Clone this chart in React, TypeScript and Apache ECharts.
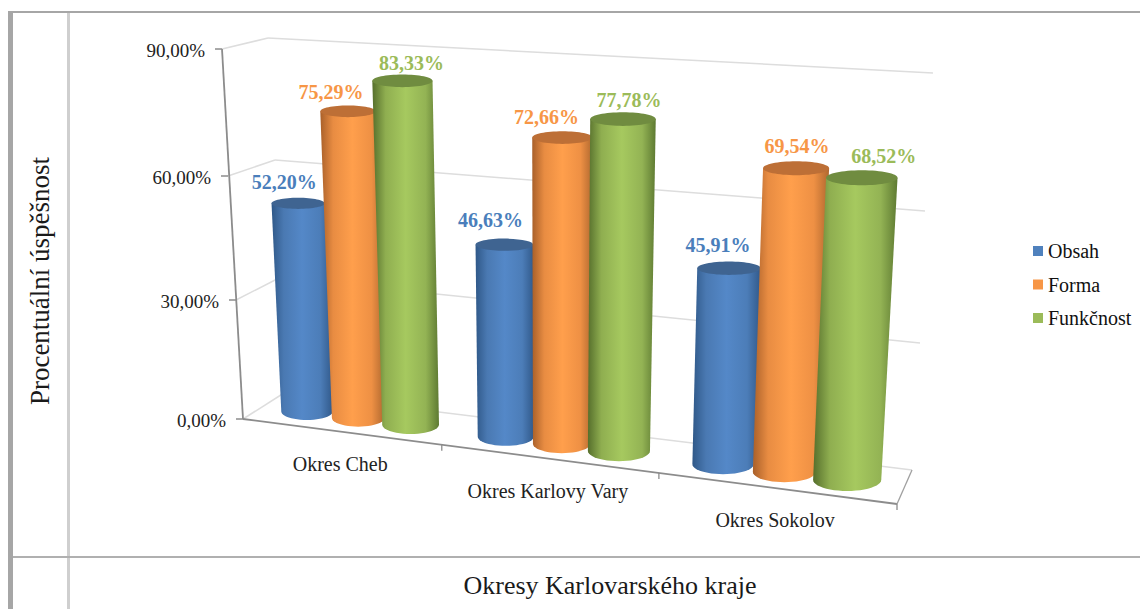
import React, { useEffect, useRef } from "react";
import * as echarts from "echarts";

const categories = ["Okres Cheb", "Okres Karlovy Vary", "Okres Sokolov"];
const seriesNames = ["Obsah", "Forma", "Funkčnost"];
const obsah = [52.2, 46.63, 45.91];
const forma = [75.29, 72.66, 69.54];
const funkcnost = [83.33, 77.78, 68.52];
const yTicks = [0, 30, 60, 90];
const yTickLabels = ["0,00%", "30,00%", "60,00%", "90,00%"];

const FONT = '"Liberation Serif", serif';
const palette = [
  { main: "#4F81BD", top: "#3F6491", stops: ["#2F5888", "#4A79B2", "#5488C8", "#4C7DB8", "#31598A"], text: "#4A7EBB" },
  { main: "#F79646", top: "#BD6F36", stops: ["#A9602A", "#E88C42", "#FF9F4C", "#EE9044", "#B0682F"], text: "#F79646" },
  { main: "#9BBB59", top: "#708C40", stops: ["#566F2C", "#8FAE50", "#A6C95F", "#93B354", "#5E7A32"], text: "#9BBB59" },
];
// label shift from the top of each cylinder, per series and category
const labelShift = [
  [[-14, -21], [-14, -25], [-11, -23]],
  [[-16, -19], [-15, -21], [2, -22]],
  [[10, -18], [7, -19], [23, -22]],
];

// perspective cage: the four vertical edges of the 3D box, at 0/30/60/90 %
const FL = [[243, 419], [236, 300], [228, 176], [222, 49]];
const BL = [[284, 393], [279, 278], [275, 160], [268, 38]];
const FR = [[897, 504], [905.5, 371], [914, 233], [923, 91]];
const BR = [[912, 470], [920, 343], [925, 211], [933, 73]];
const PERSP = 1.145;
const BAR_OFFSETS = [-0.27, -0.004, 0.262];
const BAR_DIAMETERS = [0.27, 0.27, 0.285];

function edge(e: number[][], v: number) {
  const s = Math.max(0, Math.min(2.9999, v * 3));
  const i = Math.floor(s);
  const f = s - i;
  return [e[i][0] + (e[i + 1][0] - e[i][0]) * f, e[i][1] + (e[i + 1][1] - e[i][1]) * f];
}
function project(t: number, v: number, w: number) {
  const u = t / (t + PERSP * (1 - t));
  const a = edge(FL, v), b = edge(FR, v), c = edge(BL, v), d = edge(BR, v);
  const fx = a[0] + (b[0] - a[0]) * u, fy = a[1] + (b[1] - a[1]) * u;
  const bx = c[0] + (d[0] - c[0]) * u, by = c[1] + (d[1] - c[1]) * u;
  return [fx + (bx - fx) * w, fy + (by - fy) * w];
}
function norm(params: any, api: any, cat: number, value: number, catOffset = 0) {
  const cs = params.coordSys;
  const p = api.coord([cat, value]);
  const band = api.size([1, 0])[0];
  return {
    t: (p[0] + catOffset * band - cs.x) / cs.width,
    v: (cs.y + cs.height - p[1]) / cs.height,
    bandT: band / cs.width,
  };
}
const lineEl = (a: number[], b: number[], stroke: string, lineWidth: number) => ({
  type: "line",
  shape: { x1: a[0], y1: a[1], x2: b[0], y2: b[1] },
  style: { stroke, lineWidth, fill: null },
  silent: true,
});

function cylinderSeries(name: string, values: number[], s: number) {
  const pal = palette[s];
  const offset = BAR_OFFSETS[s];
  return {
    name,
    type: "custom",
    z: 3 + s,
    itemStyle: { color: pal.main },
    data: values.map((v, i) => [i, v]),
    encode: { x: 0, y: 1 },
    renderItem: (params: any, api: any) => {
      const cat = api.value(0);
      const val = api.value(1);
      const top = norm(params, api, cat, val, offset);
      const half = (top.bandT * BAR_DIAMETERS[s]) / 2;
      const tl = project(top.t - half, top.v, 0.5), tr = project(top.t + half, top.v, 0.5);
      const bl = project(top.t - half, 0, 0.5), br = project(top.t + half, 0, 0.5);
      const cTop = [(tl[0] + tr[0]) / 2, (tl[1] + tr[1]) / 2];
      const cBot = [(bl[0] + br[0]) / 2, (bl[1] + br[1]) / 2];
      const rxT = (tr[0] - tl[0]) / 2;
      const rxB = (br[0] - bl[0]) / 2;
      const ryT = rxT * 0.21;
      const ryB = rxB * 0.33;
      const pts: number[][] = [[cTop[0] - rxT, cTop[1]], [cTop[0] + rxT, cTop[1]]];
      for (let k = 0; k <= 24; k++) {
        const a = (Math.PI * k) / 24;
        pts.push([cBot[0] + rxB * Math.cos(a), cBot[1] + ryB * Math.sin(a)]);
      }
      const sh = labelShift[s][cat];
      return {
        type: "group",
        children: [
          {
            type: "polygon",
            shape: { points: pts },
            style: {
              fill: {
                type: "linear", x: 0, y: 0, x2: 1, y2: 0,
                colorStops: [
                  { offset: 0, color: pal.stops[0] },
                  { offset: 0.2, color: pal.stops[1] },
                  { offset: 0.5, color: pal.stops[2] },
                  { offset: 0.8, color: pal.stops[3] },
                  { offset: 1, color: pal.stops[4] },
                ],
              },
            },
          },
          { type: "ellipse", shape: { cx: cTop[0], cy: cTop[1], rx: rxT, ry: ryT }, style: { fill: pal.top } },
          {
            type: "text",
            z2: 10,
            style: {
              x: cTop[0] + sh[0] - (s === 0 ? 0 : 1),
              y: cTop[1] + sh[1],
              text: val.toFixed(2).replace(".", ",") + "%",
              fill: pal.text,
              fontFamily: FONT,
              fontWeight: "bold",
              fontSize: 20,
              align: "center",
              verticalAlign: "middle",
            },
          },
        ],
      };
    },
  };
}

export default function App() {
  const ref = useRef<HTMLDivElement>(null);
  useEffect(() => {
    document.body.style.margin = "0";
    document.body.style.overflow = "hidden";
    const chart = echarts.init(ref.current!, undefined, { renderer: "svg" });
    chart.setOption({
      animation: false,
      backgroundColor: "#ffffff",
      grid: { left: 238, top: 143, width: 744, height: 276 },
      xAxis: {
        type: "category",
        data: categories,
        name: "Okresy Karlovarského kraje",
        nameLocation: "middle",
        nameGap: 153,
        nameTextStyle: { fontFamily: FONT, fontSize: 26, color: "#1a1a1a" },
        axisLine: { show: false },
        axisTick: { show: false },
        axisLabel: { show: false },
      },
      yAxis: {
        type: "value",
        min: 0,
        max: 90,
        interval: 30,
        name: "Procentuální úspěšnost",
        nameLocation: "middle",
        nameGap: 185,
        nameTextStyle: { fontFamily: FONT, fontSize: 27, color: "#1a1a1a" },
        axisLine: { show: false },
        axisTick: { show: false },
        axisLabel: { show: false },
        splitLine: { show: false },
      },
      legend: {
        data: seriesNames,
        orient: "vertical",
        left: 1028,
        top: 235,
        itemWidth: 10,
        itemHeight: 10,
        itemGap: 11.5,
        icon: "rect",
        textStyle: { fontFamily: FONT, fontSize: 20, color: "#111", lineHeight: 22 },
      },
      graphic: [
        { type: "rect", shape: { x: 8, y: 11, width: 5, height: 598 }, style: { fill: "#a6a6a6" }, silent: true },
        { type: "rect", shape: { x: 8, y: 11, width: 1132, height: 2 }, style: { fill: "#a6a6a6" }, silent: true },
        { type: "rect", shape: { x: 67, y: 13, width: 3, height: 596 }, style: { fill: "#cfcfcf" }, silent: true },
        { type: "rect", shape: { x: 13, y: 556, width: 1127, height: 2 }, style: { fill: "#b0b0b0" }, silent: true },
      ],
      series: [
        {
          name: "yTicks",
          type: "custom",
          z: 1,
          data: yTicks.map((v) => [0, v]),
          encode: { x: 0, y: 1 },
          renderItem: (params: any, api: any) => {
            const val = api.value(1);
            const cs = params.coordSys;
            const v = (cs.y + cs.height - api.coord([0, val])[1]) / cs.height;
            const f = project(0, v, 0), b = project(0, v, 1), r = project(1, v, 1);
            const children: any[] = [
              lineEl(f, b, "#dddddd", 1.5),
              lineEl(b, r, "#dddddd", 1.5),
              lineEl([f[0] - 7, f[1]], f, "#8c8c8c", 1.5),
              {
                type: "text",
                style: {
                  x: f[0] - 17,
                  y: f[1] + 1,
                  text: yTickLabels[params.dataIndex],
                  fill: "#222",
                  fontFamily: FONT,
                  fontSize: 19,
                  align: "right",
                  verticalAlign: "middle",
                },
              },
            ];
            return { type: "group", children };
          },
        },
        {
          name: "frame",
          type: "custom",
          z: 2,
          data: [[0, 0]],
          encode: { x: 0, y: 1 },
          renderItem: () => ({
            type: "group",
            children: [
              lineEl(project(0, 1, 0), project(0, 0, 0), "#8c8c8c", 1.8),
              lineEl(project(0, 0, 0), project(1, 0, 0), "#8c8c8c", 1.8),
              lineEl(project(1, 0, 0), project(1, 0, 1), "#a0a0a0", 1.3),
            ],
          }),
        },
        {
          name: "categoryLabels",
          type: "custom",
          z: 2,
          data: categories.map((_, i) => [i, 0]),
          encode: { x: 0, y: 1 },
          renderItem: (params: any, api: any) => {
            const cat = api.value(0);
            const n = norm(params, api, cat, 0);
            const p = project(n.t, 0, 0);
            const tickT = (cat + 1) / 3;
            const tick = project(tickT, 0, 0);
            return {
              type: "group",
              children: [
                lineEl(tick, [tick[0], tick[1] + 6], "#8c8c8c", 1.3),
                {
                  type: "text",
                  style: {
                    x: p[0],
                    y: p[1] + 32,
                    text: categories[cat],
                    fill: "#222",
                    fontFamily: FONT,
                    fontSize: 20,
                    align: "center",
                    verticalAlign: "middle",
                  },
                },
              ],
            };
          },
        },
        cylinderSeries(seriesNames[0], obsah, 0),
        cylinderSeries(seriesNames[1], forma, 1),
        cylinderSeries(seriesNames[2], funkcnost, 2),
      ],
    });
    return () => chart.dispose();
  }, []);
  return <div ref={ref} style={{ width: 1140, height: 609 }} />;
}
